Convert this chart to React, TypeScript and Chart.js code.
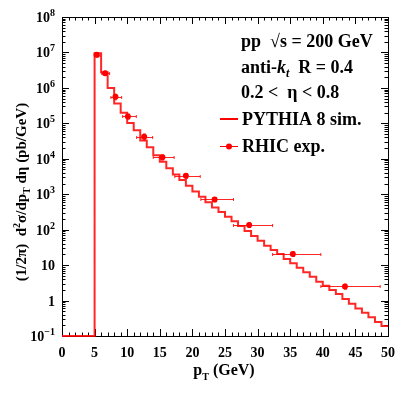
import { useEffect, useRef } from "react";
import { Chart, registerables } from "chart.js";

Chart.register(...registerables);

// ---- PYTHIA 8 histogram (bin low edges, GeV) and contents (pb/GeV) ----
const pythiaBinLow = [
  0, 5, 6, 7, 8, 9, 10, 11, 12, 13, 14, 15, 16, 17, 18, 19, 20, 21, 22, 23, 24,
  25, 26, 27, 28, 29, 30, 31, 32, 33, 34, 35, 36, 37, 38, 39, 40, 41, 42, 43,
  44, 45, 46, 47, 48, 49,
];
const pythiaValues = [
  0.1, 9.5e6, 2.75e6, 1.0e6, 3.6e5, 2.0e5, 1.03e5, 6.4e4, 3.3e4, 2.1e4, 1.26e4,
  8.3e3, 5.4e3, 3.6e3, 2.5e3, 1.74e3, 1.2e3, 850, 590, 425, 316, 233, 173, 127,
  92, 66, 49, 35, 26.6, 20.5, 14.8, 11.2, 8.4, 6.25, 4.7, 3.4, 2.6, 2.0, 1.52,
  1.1, 0.81, 0.6, 0.45, 0.34, 0.25, 0.19,
];
const pythiaUpperEdge = 50;

// ---- RHIC measurement ----
const rhicPt = [5.3, 6.6, 8.2, 10.1, 12.6, 15.4, 19.0, 23.4, 28.7, 35.4, 43.4];
const rhicValues = [8.6e6, 2.6e6, 5.6e5, 1.57e5, 4.2e4, 1.1e4, 3.3e3, 710, 135, 20.5, 2.5];
const rhicPtLow = [5.0, 6.1, 7.5, 9.3, 11.45, 14.0, 17.3, 21.3, 26.3, 32.3, 39.7];
const rhicPtHigh = [5.8, 7.3, 9.15, 11.4, 13.9, 17.2, 21.2, 26.3, 32.3, 39.7, 48.8];
const rhicErr = [1.2e6, 3.5e5, 1.0e5, 2.5e4, 8e3, 1.8e3, 5e2, 1e2, 2e1, 3.0, 0.4];

// ---- axis ticks ----
const xTickLabels = [0, 5, 10, 15, 20, 25, 30, 35, 40, 45, 50];
const yDecades = [-1, 0, 1, 2, 3, 4, 5, 6, 7, 8];

const SERIF = '"Liberation Serif", "Times New Roman", serif';
const B = (s: number) => `bold ${s}px ${SERIF}`;
const BI = (s: number) => `italic bold ${s}px ${SERIF}`;
const RED = "#ff0000";

type Part = { t: string; f: string; dy?: number };

function drawParts(ctx: CanvasRenderingContext2D, parts: Part[], x: number, y: number, align: "left" | "center" | "right") {
  let w = 0;
  for (const p of parts) {
    ctx.font = p.f;
    w += ctx.measureText(p.t).width;
  }
  let cx = align === "left" ? x : align === "center" ? x - w / 2 : x - w;
  ctx.textAlign = "left";
  ctx.textBaseline = "alphabetic";
  for (const p of parts) {
    ctx.font = p.f;
    ctx.fillText(p.t, cx, y + (p.dy || 0));
    cx += ctx.measureText(p.t).width;
  }
}

const rootPlugin = {
  id: "rootStyle",
  beforeDatasetsDraw(chart: any) {
    const ctx: CanvasRenderingContext2D = chart.ctx;
    const { left, right, top, bottom } = chart.chartArea;
    const xs = chart.scales.x;
    const ys = chart.scales.y;
    ctx.save();
    ctx.strokeStyle = "#000";
    ctx.lineWidth = 1;
    ctx.strokeRect(Math.round(left) + 0.5, Math.round(top) + 0.5, Math.round(right - left), Math.round(bottom - top));
    ctx.beginPath();
    for (let v = 0; v <= 50; v++) {
      const px = Math.round(xs.getPixelForValue(v)) + 0.5;
      const len = v % 5 === 0 ? 7 : 3.5;
      ctx.moveTo(px, bottom);
      ctx.lineTo(px, bottom - len);
      ctx.moveTo(px, top);
      ctx.lineTo(px, top + len);
    }
    for (const e of yDecades) {
      for (let m = 1; m <= 9; m++) {
        const val = m * Math.pow(10, e);
        if (val > 1e8 * 1.0001) continue;
        const py = Math.round(ys.getPixelForValue(val)) + 0.5;
        const len = m === 1 ? 7 : 3.5;
        ctx.moveTo(left, py);
        ctx.lineTo(left + len, py);
        ctx.moveTo(right, py);
        ctx.lineTo(right - len, py);
      }
    }
    ctx.stroke();

    // error bars of RHIC points
    ctx.strokeStyle = "rgba(255,0,0,0.85)";
    ctx.lineWidth = 1;
    ctx.beginPath();
    for (let i = 0; i < rhicPt.length; i++) {
      const px = xs.getPixelForValue(rhicPt[i]);
      const py = Math.round(ys.getPixelForValue(rhicValues[i])) + 0.5;
      const x1 = xs.getPixelForValue(rhicPtLow[i]);
      const x2 = xs.getPixelForValue(rhicPtHigh[i]);
      const y1 = ys.getPixelForValue(rhicValues[i] + rhicErr[i]);
      const y2 = ys.getPixelForValue(rhicValues[i] - rhicErr[i]);
      ctx.moveTo(x1, py);
      ctx.lineTo(x2, py);
      ctx.moveTo(x1, py - 1.5);
      ctx.lineTo(x1, py + 1.5);
      ctx.moveTo(x2, py - 1.5);
      ctx.lineTo(x2, py + 1.5);
      const vx = Math.round(px) + 0.5;
      ctx.moveTo(vx, y1);
      ctx.lineTo(vx, y2);
      ctx.moveTo(vx - 1.5, y1);
      ctx.lineTo(vx + 1.5, y1);
      ctx.moveTo(vx - 1.5, y2);
      ctx.lineTo(vx + 1.5, y2);
    }
    ctx.stroke();
    ctx.restore();
  },
  afterDraw(chart: any) {
    const ctx: CanvasRenderingContext2D = chart.ctx;
    const { left, bottom } = chart.chartArea;
    const xs = chart.scales.x;
    const ys = chart.scales.y;
    ctx.save();
    ctx.fillStyle = "#000";
    ctx.font = B(14);
    ctx.textAlign = "center";
    ctx.textBaseline = "alphabetic";
    for (const v of xTickLabels) {
      ctx.fillText(String(v), xs.getPixelForValue(v), bottom + 21);
    }
    for (const e of yDecades) {
      const py = ys.getPixelForValue(Math.pow(10, e)) + 5;
      let parts: Part[];
      if (e === 0) parts = [{ t: "1", f: B(14) }];
      else if (e === 1) parts = [{ t: "10", f: B(14) }];
      else parts = [{ t: "10", f: B(14) }, { t: e < 0 ? "\u22121" : String(e), f: B(10), dy: -6 }];
      drawParts(ctx, parts, left - 7, py, "right");
    }
    drawParts(
      ctx,
      [
        { t: "p", f: B(16) },
        { t: "T", f: B(10), dy: 5 },
        { t: " (GeV)", f: B(16) },
      ],
      224,
      375,
      "center"
    );
    ctx.save();
    ctx.translate(26, 192);
    ctx.rotate(-Math.PI / 2);
    drawParts(
      ctx,
      [
        { t: "(1/2\u03c0)  d", f: B(15) },
        { t: "2", f: B(10), dy: -6 },
        { t: "\u03c3/dp", f: B(15) },
        { t: "T", f: B(10), dy: 4 },
        { t: " d\u03b7 (pb/GeV)", f: B(15) },
      ],
      0,
      0,
      "center"
    );
    ctx.restore();

    const lx = 241;
    drawParts(ctx, [{ t: "pp  \u221as = 200 GeV", f: B(18) }], lx, 47, "left");
    drawParts(
      ctx,
      [
        { t: "anti-", f: B(18) },
        { t: "k", f: BI(18) },
        { t: "t", f: BI(12), dy: 4 },
        { t: "  R = 0.4", f: B(18) },
      ],
      lx,
      73,
      "left"
    );
    drawParts(ctx, [{ t: "0.2 <  \u03b7 < 0.8", f: B(18) }], lx, 98, "left");
    drawParts(ctx, [{ t: "PYTHIA 8 sim.", f: B(18) }], lx + 1, 125, "left");
    drawParts(ctx, [{ t: "RHIC exp.", f: B(18) }], lx + 1, 152, "left");
    ctx.strokeStyle = RED;
    ctx.lineWidth = 2;
    ctx.beginPath();
    ctx.moveTo(220, 119);
    ctx.lineTo(238, 119);
    ctx.stroke();
    ctx.lineWidth = 1;
    ctx.beginPath();
    ctx.moveTo(220, 146.5);
    ctx.lineTo(238, 146.5);
    ctx.stroke();
    ctx.fillStyle = RED;
    ctx.beginPath();
    ctx.arc(229, 146.5, 3, 0, Math.PI * 2);
    ctx.fill();
    ctx.restore();
  },
};

export default function App() {
  const ref = useRef<HTMLCanvasElement | null>(null);
  useEffect(() => {
    document.body.style.margin = "0";
    document.body.style.overflow = "hidden";
    const canvas = ref.current;
    if (!canvas) return;
    const histPoints = pythiaBinLow.map((x, i) => ({ x, y: pythiaValues[i] }));
    histPoints.push({ x: pythiaUpperEdge, y: pythiaValues[pythiaValues.length - 1] });
    const rhicPoints = rhicPt.map((x, i) => ({ x, y: rhicValues[i] }));
    const chart = new Chart(canvas, {
      type: "scatter",
      data: {
        datasets: [
          {
            label: "PYTHIA 8 sim.",
            data: histPoints,
            showLine: true,
            stepped: "before",
            borderColor: "rgba(255,0,0,0.85)",
            borderWidth: 2,
            pointRadius: 0,
            fill: false,
            clip: false,
            order: 2,
          } as any,
          {
            label: "RHIC exp.",
            data: rhicPoints,
            showLine: false,
            pointRadius: 3,
            pointHoverRadius: 3,
            pointBackgroundColor: RED,
            pointBorderColor: RED,
            pointBorderWidth: 0,
            order: 1,
          },
        ],
      },
      options: {
        animation: false,
        responsive: true,
        maintainAspectRatio: false,
        events: [],
        layout: { padding: { left: 62, top: 17, right: 21, bottom: 60 } },
        plugins: { legend: { display: false }, tooltip: { enabled: false } },
        scales: {
          x: { type: "linear", min: 0, max: 50, display: false },
          y: { type: "logarithmic", min: 0.1, max: 1e8, display: false },
        },
      },
      plugins: [rootPlugin],
    });
    return () => chart.destroy();
  }, []);
  return (
    <div style={{ width: 409, height: 396, position: "relative", background: "#fff" }}>
      <canvas ref={ref} />
    </div>
  );
}
